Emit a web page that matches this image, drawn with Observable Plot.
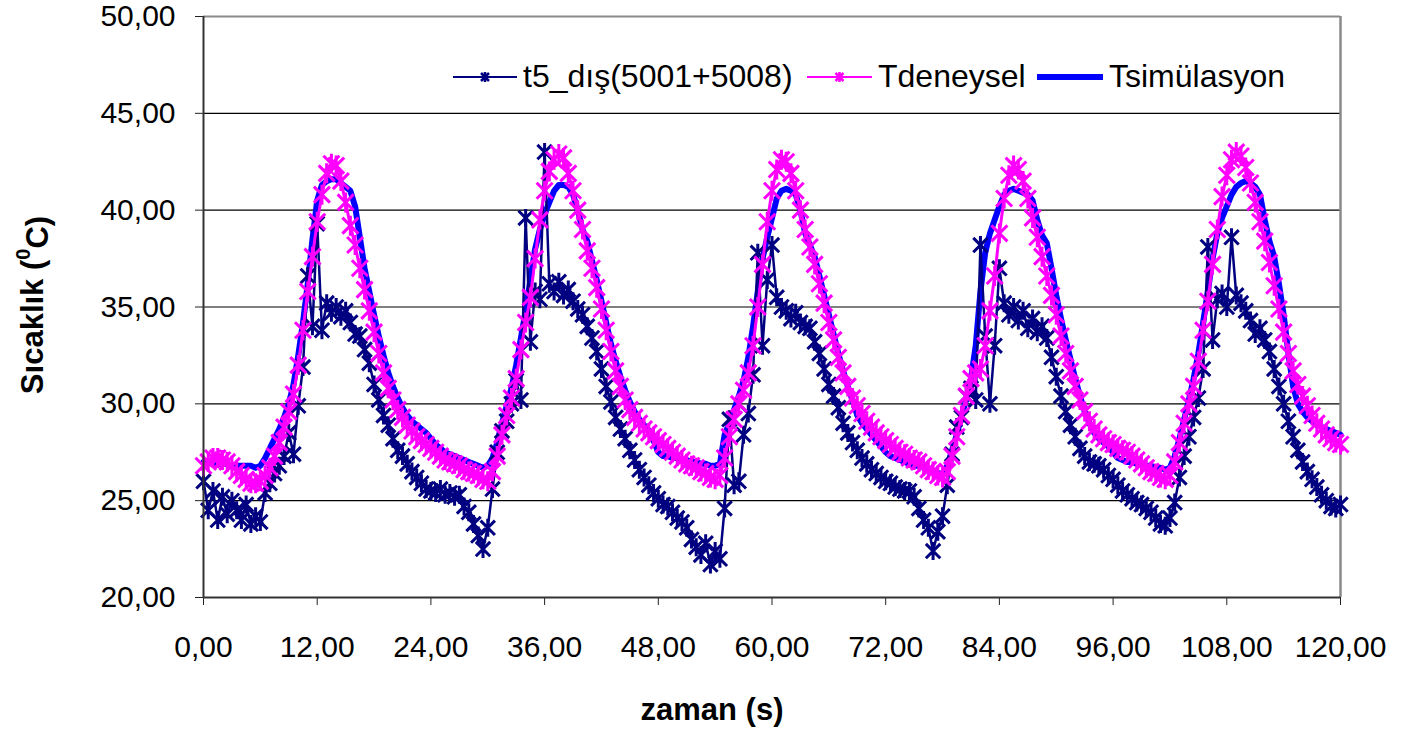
<!DOCTYPE html>
<html><head><meta charset="utf-8">
<script src="https://cdn.jsdelivr.net/npm/d3@7"></script>
<script src="https://cdn.jsdelivr.net/npm/@observablehq/plot@0.6"></script>
<style>
html,body{margin:0;padding:0;background:#fff;}
#chart{width:1401px;height:731px;}
</style></head><body><div id="chart"></div>
<script>
// tick values
const xTicks = [0, 12, 24, 36, 48, 60, 72, 84, 96, 108, 120];
const yTicks = [20, 25, 30, 35, 40, 45, 50];
const timeStep = 0.5; // seconds between samples, t = 0 ... 120

const seriesNames = ["t5_dış(5001+5008)", "Tdeneysel", "Tsimülasyon"];
const seriesColors = ["#000080", "#FF00FF", "#0000FF"];

// t5_dış(5001+5008)
const t5Dis = [
  26.0,24.5,25.5,24.0,25.2,24.3,25.0,24.5,24.0,24.8,23.8,24.2,23.9,25.4,25.9,26.4,26.8,27.3,28.5,27.4,29.9,31.9,36.6,34.0,
  39.3,33.8,35.2,34.7,35.0,34.5,34.8,34.2,33.6,33.5,32.8,32.1,31.0,30.2,29.4,28.9,28.2,27.6,27.3,26.9,26.5,26.2,25.9,25.6,25.5,
  25.4,25.6,25.3,25.4,25.2,25.3,24.7,24.4,23.8,23.2,22.5,23.6,25.6,27.5,28.6,29.1,30.0,31.2,30.2,39.6,33.2,35.8,35.4,43.0,
  36.2,35.8,36.3,35.6,35.9,35.3,34.9,34.6,34.0,33.4,32.7,31.8,30.9,30.1,29.3,28.7,28.2,27.6,27.1,26.6,26.2,25.8,25.4,25.1,
  24.8,24.7,24.4,24.1,23.9,23.6,23.0,22.6,22.2,22.8,21.7,22.4,22.0,24.6,29.2,25.8,26.0,28.4,29.5,31.5,37.8,33.0,36.4,38.2,
  35.5,35.0,34.8,34.4,34.7,34.2,34.0,33.9,33.2,32.6,31.8,31.0,30.4,29.8,29.0,28.5,28.0,27.6,27.2,26.9,26.6,26.4,26.2,26.0,
  25.9,25.7,25.6,25.5,25.5,25.2,24.6,24.0,23.6,22.4,23.4,24.2,25.8,27.4,28.8,29.3,30.4,30.8,30.2,38.2,33.5,30.0,33.0,37.0,
  35.2,34.6,35.0,34.3,34.8,33.9,34.4,33.7,34.0,33.4,32.4,31.4,30.4,29.6,28.9,28.3,27.7,27.3,27.0,26.9,26.8,26.6,26.3,26.1,
  25.8,25.5,25.3,25.1,24.9,24.8,24.6,24.4,24.1,23.8,23.7,24.1,24.9,26.2,27.3,28.3,29.3,30.3,31.8,38.1,33.3,35.4,35.7,35.0,
  38.6,35.6,35.2,34.8,34.3,33.6,33.9,33.3,32.7,31.8,30.9,30.0,29.1,28.3,27.6,27.0,26.5,26.1,25.7,25.3,25.0,24.7,24.6,24.8
];

// Tdeneysel
const tDeneysel = [
  26.8,27.0,27.2,27.2,27.1,27.0,26.8,26.5,26.3,26.1,25.9,25.9,26.0,26.3,26.7,27.3,28.0,28.8,29.6,30.5,32.0,33.8,35.8,37.6,
  39.4,40.8,41.9,42.4,42.3,41.5,40.4,39.2,38.2,37.0,35.9,34.8,33.7,32.6,31.6,30.8,30.2,29.7,29.3,28.9,28.6,28.3,28.1,27.9,27.7,
  27.5,27.3,27.1,27.0,26.9,26.8,26.6,26.5,26.4,26.3,26.1,26.0,26.5,27.3,28.4,29.4,30.3,31.3,32.8,34.2,35.5,37.5,39.5,41.0,
  42.0,42.6,42.9,42.7,41.9,41.0,40.0,39.0,37.9,37.0,36.0,34.9,33.8,32.7,31.7,30.9,30.2,29.7,29.3,29.0,28.7,28.5,28.3,28.1,
  27.9,27.7,27.5,27.3,27.1,26.9,26.8,26.7,26.5,26.4,26.2,26.1,26.3,27.2,28.3,29.2,30.0,30.7,31.6,33.0,35.0,37.2,39.4,41.0,
  42.1,42.6,42.5,41.9,41.0,40.0,39.0,38.1,37.2,36.2,35.2,34.2,33.3,32.4,31.6,30.9,30.3,29.9,29.5,29.1,28.8,28.5,28.3,28.1,
  27.9,27.7,27.5,27.4,27.2,27.1,27.0,26.8,26.6,26.5,26.3,26.2,26.5,27.3,28.3,29.4,30.4,31.3,31.6,31.8,33.0,34.8,36.6,38.8,
  40.6,41.8,42.3,42.1,41.5,40.6,39.6,38.6,37.6,36.6,35.6,34.6,33.5,32.6,31.7,30.9,30.2,29.6,29.1,28.7,28.4,28.2,28.0,27.9,
  27.7,27.6,27.5,27.3,27.1,26.9,26.7,26.5,26.4,26.2,26.1,26.3,27.0,28.0,29.0,30.0,30.9,32.2,33.8,35.3,37.2,39.0,40.7,41.8,
  42.6,43.0,42.8,42.2,41.4,40.4,39.4,38.4,37.3,36.1,34.9,33.7,32.6,31.7,31.0,30.4,29.9,29.4,29.0,28.7,28.4,28.2,28.0,27.9
];

// Tsimülasyon
const tSimulasyon = [
  27.0,27.0,26.9,26.9,26.9,26.9,26.8,26.8,26.8,26.8,26.8,26.7,26.8,27.2,27.7,28.2,28.7,29.3,30.0,31.0,32.5,34.2,36.2,38.5,
  40.5,41.3,41.5,41.6,41.6,41.4,41.2,41.0,40.2,38.6,37.0,35.8,34.6,33.5,32.5,31.6,30.9,30.3,29.8,29.4,29.1,28.9,28.7,28.5,28.2,
  27.9,27.7,27.5,27.4,27.3,27.2,27.1,27.0,26.9,26.8,26.7,26.8,27.2,28.0,29.0,29.9,30.8,32.0,33.4,34.8,36.4,38.0,39.0,39.8,
  40.4,41.0,41.3,41.3,41.2,40.8,40.0,39.0,38.4,37.4,36.4,35.3,34.2,33.1,32.2,31.4,30.7,30.1,29.6,29.2,28.9,28.6,28.1,27.5,
  27.3,27.3,27.2,27.2,27.1,27.1,27.0,27.0,26.9,26.9,26.8,26.8,26.9,28.4,29.0,29.7,30.4,31.2,32.4,34.0,35.8,37.5,38.6,39.6,
  40.6,41.0,41.1,41.0,40.8,40.0,38.8,38.2,37.6,36.6,35.6,34.6,33.6,32.6,31.7,30.9,30.2,29.4,29.0,28.7,28.4,28.1,27.8,27.5,
  27.3,27.2,27.1,27.0,26.9,26.8,26.8,26.7,26.6,26.5,26.4,26.4,26.8,27.6,28.4,29.4,30.2,31.3,33.0,35.8,37.8,38.8,39.5,40.2,
  40.8,41.0,41.1,41.0,40.9,40.8,40.5,39.5,38.7,38.3,37.0,35.6,34.4,33.3,32.3,31.3,30.4,29.6,29.0,28.5,28.2,28.0,27.8,27.5,
  27.2,27.1,27.0,27.0,26.9,26.9,26.8,26.8,26.7,26.7,26.6,26.7,27.3,28.2,29.2,30.2,31.3,32.6,34.2,35.8,37.5,38.8,39.6,40.2,
  40.8,41.2,41.4,41.5,41.4,41.2,40.8,39.5,38.4,37.6,36.2,34.6,32.6,30.9,30.0,29.6,29.3,29.1,28.9,28.8,28.7,28.6,28.5,28.4
];

const rows = arr => arr.map((v, i) => ({t: i * timeStep, v}));
const fmt = d => d.toFixed(2).replace(".", ",");
const FONT = "'Liberation Sans', Arial, Helvetica, sans-serif";

// Excel-style star marker: an X crossed by a vertical bar
const excelStar = {
  draw(ctx, size) {
    const r = Math.sqrt(size / Math.PI);
    const d = r * 0.8;
    ctx.moveTo(0, -r); ctx.lineTo(0, r);
    ctx.moveTo(-d, -d); ctx.lineTo(d, d);
    ctx.moveTo(-d, d); ctx.lineTo(d, -d);
  }
};

const chart = Plot.plot({
  width: 1401,
  height: 731,
  marginLeft: 203,
  marginRight: 61,
  marginTop: 16,
  marginBottom: 134,
  style: {fontFamily: FONT, fontSize: "30px", background: "#fff", color: "#000"},
  x: {domain: [0, 120]},
  y: {domain: [20, 50]},
  marks: [
    Plot.gridY(yTicks.filter(d => d > 20 && d < 50), {stroke: "#000", strokeOpacity: 1, strokeWidth: 1.2}),
    Plot.ruleY([50], {stroke: "#8a8a8a", strokeWidth: 2}),
    Plot.ruleX([120], {stroke: "#8a8a8a", strokeWidth: 2.5}),
    Plot.line(rows(tSimulasyon), {x: "t", y: "v", stroke: seriesColors[2], strokeWidth: 6}),
    Plot.line(rows(t5Dis), {x: "t", y: "v", stroke: seriesColors[0], strokeWidth: 2.5}),
    Plot.dot(rows(t5Dis), {x: "t", y: "v", symbol: excelStar, r: 9, fill: "none", stroke: seriesColors[0], strokeWidth: 3}),
    Plot.line(rows(tDeneysel), {x: "t", y: "v", stroke: seriesColors[1], strokeWidth: 3}),
    Plot.dot(rows(tDeneysel), {x: "t", y: "v", symbol: excelStar, r: 10, fill: "none", stroke: seriesColors[1], strokeWidth: 3}),
    Plot.axisY(yTicks, {tickSize: 8, tickPadding: 20, tickFormat: fmt, label: null, stroke: "#222"}),
    Plot.axisX(xTicks, {tickSize: 8, tickPadding: 30, tickFormat: fmt, label: null, stroke: "#222"}),
    Plot.ruleX([0], {stroke: "#333", strokeWidth: 2}),
    Plot.ruleY([20], {stroke: "#333", strokeWidth: 2})
  ]
});

const svg = d3.select(chart);

// axis titles
const yTitle = svg.append("text")
  .attr("transform", "translate(32,305) rotate(-90)")
  .attr("text-anchor", "middle")
  .attr("dominant-baseline", "central")
  .style("font-family", FONT).style("font-weight", "bold").style("font-size", "31px")
  .attr("fill", "#000");
yTitle.append("tspan").text("Sıcaklık (");
yTitle.append("tspan").text("0").attr("dy", "-0.45em").style("font-size", "20px");
yTitle.append("tspan").text("C)").attr("dy", "0.45em");

svg.append("text")
  .attr("x", 712).attr("y", 720)
  .attr("text-anchor", "middle")
  .style("font-family", FONT).style("font-weight", "bold").style("font-size", "31px")
  .attr("fill", "#000")
  .text("zaman (s)");

// legend (inside plot area, top)
const legendItems = [
  {x0: 453, x1: 517, tx: 523, w: 2, marker: true},
  {x0: 807, x1: 872, tx: 878, w: 2, marker: true},
  {x0: 1037, x1: 1103, tx: 1109, w: 6, marker: false}
];
const ly = 77;
const sym = d3.symbol(excelStar, Math.PI * 25);
const lg = svg.append("g").attr("text-anchor", "start");
legendItems.forEach((it, i) => {
  lg.append("line").attr("x1", it.x0).attr("x2", it.x1).attr("y1", ly).attr("y2", ly)
    .attr("stroke", seriesColors[i]).attr("stroke-width", it.w);
  if (it.marker) {
    lg.append("path").attr("d", sym())
      .attr("transform", `translate(${(it.x0 + it.x1) / 2},${ly})`)
      .attr("fill", "none").attr("stroke", seriesColors[i]).attr("stroke-width", 2.5);
  }
  lg.append("text").attr("x", it.tx).attr("y", ly + 10)
    .attr("text-anchor", "start")
    .style("font-family", FONT).style("font-size", "32px").attr("fill", "#000")
    .text(seriesNames[i]);
});

document.getElementById("chart").appendChild(chart);
</script>
</body></html>
